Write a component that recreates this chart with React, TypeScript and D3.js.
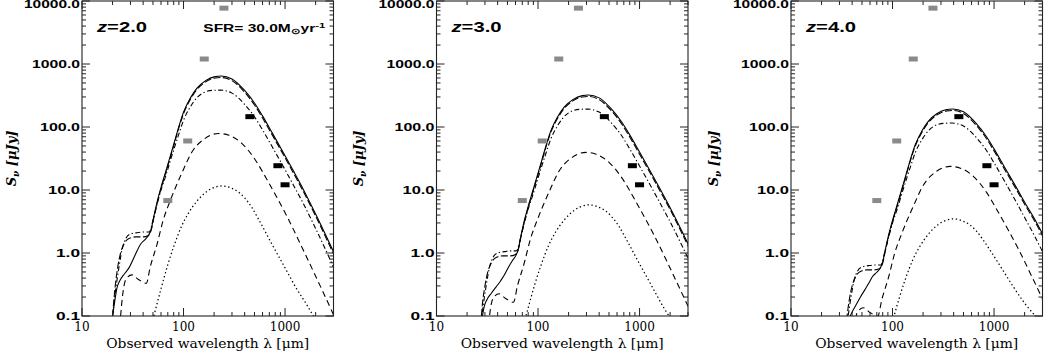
import React from 'react';
import * as d3 from 'd3';

type Pt = [number, number];

// ---- z = 2.0 (wavelength in micron, flux in microJy)
const z2Solid: Pt[] = [[20,0.1],[21,0.17],[22,0.27],[23.5,0.36],[26,0.46],[29,0.58],[32,0.8],[35,1.1],[38,1.4],[42,1.65],[46,2.0],[48,2.4],[51,3.8],[55,6.5],[60,11],[67,20],[75,37],[83,65],[91,108],[100,172],[117,290],[135,410],[165,545],[205,630],[235,645],[300,580],[400,380],[500,240],[600,150],[750,80],[1000,35],[1200,20.5],[1500,10.5],[2000,4.15],[3000,1.05]];
const z2LongDash: Pt[] = [[20,0.1],[21,0.25],[22.5,0.6],[24,1.0],[26,1.4],[29,1.7],[34,1.8],[40,1.8],[45,1.9],[48,2.3],[51,3.6],[55,6.2],[60,10.5],[67,19],[75,35],[83,62],[91,103],[100,163],[117,275],[135,390],[165,520],[205,600],[235,610],[300,545],[400,355],[500,223],[600,139],[750,74],[1000,32.5],[1200,19],[1500,9.75],[2000,3.85],[3000,0.97]];
const z2DashDot: Pt[] = [[20,0.1],[21,0.2],[22,0.35],[23.5,0.7],[25,1.2],[27,1.7],[30,2.0],[35,2.1],[40,2.15],[46,2.15],[50,3.3],[55,6],[60,10],[67,17],[75,31],[83,52],[91,82],[100,128],[117,210],[135,290],[165,362],[200,383],[230,385],[300,345],[400,228],[500,145],[600,90],[750,48],[1000,21],[1200,12.2],[1500,6.25],[2000,2.45],[3000,0.6]];
const z2Dashed: Pt[] = [[24,0.1],[25,0.2],[27,0.38],[31,0.45],[36,0.38],[43,0.33],[47,0.6],[55,1.4],[63,3.3],[74,6.8],[96,18.4],[121,40],[163,66],[222,79],[280,74],[375,55],[510,30],[650,15.5],[835,7.5],[1050,3.75],[1370,1.55],[1850,0.56],[2340,0.25],[3000,0.105]];
const z2Dotted: Pt[] = [[51,0.1],[60,0.27],[70,0.65],[80,1.26],[96,2.7],[112,4.3],[135,6.6],[170,9.5],[205,11.1],[240,11.6],[300,10.6],[350,9.2],[400,7.5],[470,5.3],[550,3.4],[750,1.34],[1000,0.58],[1300,0.27],[1600,0.16],[1900,0.1],[2200,0.067]];

// ---- z = 3.0
const z3Solid: Pt[] = [[27,0.05],[28,0.085],[29.3,0.135],[31.3,0.18],[34.7,0.23],[38.7,0.29],[42.7,0.36],[46.7,0.45],[50.7,0.58],[56,0.76],[61.3,0.95],[64,1.15],[68,1.9],[73.3,3.25],[80,5.5],[89.3,10],[100,18.5],[110.7,32.5],[121.3,54],[133.3,86],[156,145],[180,205],[220,272],[273,315],[313,322],[400,290],[533,190],[667,120],[800,75],[1000,40],[1333,17.5],[1600,10.25],[2000,5.25],[2667,2.08],[4000,0.52]];
const z3LongDash: Pt[] = [[27,0.05],[28,0.125],[30,0.3],[32,0.5],[34.7,0.7],[38.7,0.85],[45.3,0.9],[53.3,0.9],[60,0.95],[64,1.15],[68,1.8],[73.3,3.1],[80,5.25],[89.3,9.5],[100,17.5],[110.7,31],[121.3,51.5],[133.3,81.5],[156,137.5],[180,195],[220,260],[273,300],[313,305],[400,272],[533,178],[667,111.5],[800,69.5],[1000,37],[1333,16.25],[1600,9.5],[2000,4.9],[2667,1.93],[4000,0.49]];
const z3DashDot: Pt[] = [[26.7,0.05],[28,0.1],[29.3,0.175],[31.3,0.35],[33.3,0.6],[36,0.85],[40,1.0],[46.7,1.05],[53.3,1.08],[61.3,1.08],[66.7,1.65],[73.3,3],[80,5],[89.3,8.5],[100,15.5],[110.7,26],[121.3,41],[133.3,64],[156,105],[180,145],[220,181],[266.7,191.5],[306.7,192.5],[400,172.5],[533,114],[667,72.5],[800,45],[1000,24],[1333,10.5],[1600,6.1],[2000,3.13],[2667,1.23],[4000,0.3]];
const z3Dashed: Pt[] = [[32,0.05],[33.3,0.1],[36,0.19],[41.3,0.225],[48,0.19],[57.3,0.165],[62.7,0.3],[73.3,0.7],[84,1.65],[98.7,3.4],[128,9.2],[161.3,20],[217,33],[296,39.5],[373,37],[500,27.5],[680,15],[867,7.75],[1113,3.75],[1400,1.88],[1827,0.78],[2467,0.28],[3120,0.125],[4000,0.053]];
const z3Dotted: Pt[] = [[68,0.05],[80,0.135],[93.3,0.325],[106.7,0.63],[128,1.35],[149,2.15],[180,3.3],[227,4.75],[273,5.55],[320,5.8],[400,5.3],[467,4.6],[533,3.75],[627,2.65],[733,1.7],[1000,0.67],[1333,0.29],[1733,0.135],[2133,0.08],[2533,0.05]];

// ---- z = 4.0
const z4Solid: Pt[] = [[33.3,0.03],[35,0.051],[36.7,0.081],[39.2,0.108],[43.3,0.145],[48.3,0.2],[53.3,0.26],[58.3,0.33],[63.3,0.42],[70,0.495],[76.7,0.6],[80,0.72],[85,1.14],[91.7,1.95],[100,3.3],[111.7,6],[125,11.1],[138.3,19.5],[151.7,32.4],[166.7,51.6],[195,87],[225,123],[275,163.5],[341.7,189],[391.7,193.5],[500,174],[666.7,114],[833.3,72],[1000,45],[1250,24],[1666.7,10.8],[2000,6.4],[2500,3.5],[3333,1.45]];
const z4LongDash: Pt[] = [[33.3,0.03],[35,0.075],[37.5,0.18],[40,0.3],[43.3,0.42],[48.3,0.51],[56.7,0.54],[66.7,0.54],[75,0.57],[80,0.69],[85,1.08],[91.7,1.86],[100,3.15],[111.7,5.7],[125,10.5],[138.3,18.6],[151.7,30.9],[166.7,48.9],[195,82.5],[225,117],[275,156],[341.7,180],[391.7,183],[500,163.5],[666.7,106.5],[833.3,67],[1000,41.7],[1250,22.2],[1666.7,10],[2000,5.95],[2500,3.25],[3333,1.35]];
const z4DashDot: Pt[] = [[33.3,0.03],[35,0.06],[36.7,0.105],[39.2,0.21],[41.7,0.36],[45,0.51],[50,0.6],[58.3,0.63],[66.7,0.645],[76.7,0.645],[83.3,0.99],[91.7,1.8],[100,3.0],[111.7,5.1],[125,9.3],[138.3,15.6],[151.7,24.6],[166.7,38.4],[195,63],[225,87],[275,108.6],[333.3,114.9],[383.3,115.5],[500,103.5],[666.7,68.4],[833.3,43.5],[1000,27],[1250,14.4],[1666.7,6.3],[2000,3.66],[2500,1.88],[3333,0.74]];
const z4Dashed: Pt[] = [[40,0.03],[41.7,0.06],[45,0.114],[51.7,0.135],[60,0.114],[71.7,0.1],[78.3,0.18],[91.7,0.42],[105,0.99],[123.3,2.04],[160,5.5],[201.7,12],[271.7,19.8],[370,23.7],[466.7,22.2],[625,16.5],[850,9],[1083,4.65],[1392,2.25],[1750,1.13],[2283,0.47],[3083,0.17],[3900,0.075]];
const z4Dotted: Pt[] = [[85,0.03],[100,0.081],[116.7,0.195],[133.3,0.378],[160,0.81],[186.7,1.29],[225,1.98],[283,2.85],[341.7,3.33],[400,3.48],[500,3.18],[583,2.76],[667,2.25],[783,1.6],[917,1.1],[1250,0.5],[1550,0.29],[2000,0.16],[2550,0.1],[3000,0.075]];

// limits (grey) and observed points (black), same in every panel
const greyLimits: Pt[] = [[70, 6.8], [110, 60], [160, 1200], [250, 7700]];
const blackPoints: Pt[] = [[450, 146], [850, 24.3], [1000, 12.1]];

const redshifts = ['2.0', '3.0', '4.0'];
const sfrValue = '30.0';

const yTickValues = [0.1, 1, 10, 100, 1000, 10000];
const yTickLabels = ['0.1', '1.0', '10.0', '100.0', '1000.0', '10000.0'];
const xTickValues = [10, 100, 1000];
const xTickLabels = ['10', '100', '1000'];

const panelCurves = [
  [z2Solid, z2LongDash, z2DashDot, z2Dashed, z2Dotted],
  [z3Solid, z3LongDash, z3DashDot, z3Dashed, z3Dotted],
  [z4Solid, z4LongDash, z4DashDot, z4Dashed, z4Dotted],
];
const dashes = [undefined, '7,2.5', '5,2.5,1.3,2.5', '6,4', '1.4,2.6'];

const panelLeft = [82, 436.5, 791];
const yTitleX = [16, 362.5, 717.5];
const plotW = 251.5;
const plotTop = 1;
const plotBottom = 316;

const sans = '"Liberation Sans", Arial, sans-serif';
const serif = '"DejaVu Serif", serif';

const isMajor = (v: number) => Math.abs(Math.log10(v) - Math.round(Math.log10(v))) < 1e-6;

function Panel({ i }: { i: number }) {
  const left = panelLeft[i];
  const right = left + plotW;
  const x = d3.scaleLog().domain([10, 3000]).range([left, right]);
  const y = d3.scaleLog().domain([0.1, 10000]).range([plotBottom, plotTop]);
  const line = d3.line<Pt>().x(d => x(d[0])).y(d => y(d[1])).curve(d3.curveMonotoneX);
  const clipId = `clip${i}`;

  return (
    <g>
      <defs>
        <clipPath id={clipId}>
          <rect x={left} y={plotTop} width={plotW} height={plotBottom - plotTop} />
        </clipPath>
      </defs>

      <g clipPath={`url(#${clipId})`}>
        {panelCurves[i].map((c, k) => (
          <path key={k} d={line(c) || ''} fill="none" stroke="#000"
            strokeWidth={k === 4 ? 1.25 : 1.1} strokeDasharray={dashes[k]} />
        ))}
        {greyLimits.map((p, k) => (
          <rect key={'g' + k} x={x(p[0]) - 4.5} y={y(p[1]) - 2.5} width={9} height={5} fill="#8a8a8a" />
        ))}
        {blackPoints.map((p, k) => (
          <rect key={'b' + k} x={x(p[0]) - 4.5} y={y(p[1]) - 2.5} width={9} height={5} fill="#000" />
        ))}
      </g>

      {/* frame and ticks */}
      <rect x={left} y={plotTop} width={plotW} height={plotBottom - plotTop} fill="none" stroke="#222" strokeWidth={1.1} />
      {x.ticks().map((v, k) => {
        const len = isMajor(v) ? 8 : 4;
        const px = x(v);
        return (
          <g key={'xt' + k} stroke="#222" strokeWidth={1}>
            <line x1={px} x2={px} y1={plotBottom} y2={plotBottom - len} />
            <line x1={px} x2={px} y1={plotTop} y2={plotTop + len} />
          </g>
        );
      })}
      {y.ticks().map((v, k) => {
        const len = isMajor(v) ? 8 : 4;
        const py = y(v);
        return (
          <g key={'yt' + k} stroke="#222" strokeWidth={1}>
            <line x1={left} x2={left + len} y1={py} y2={py} />
            <line x1={right} x2={right - len} y1={py} y2={py} />
          </g>
        );
      })}

      {yTickValues.map((v, k) => (
        <text key={'yl' + k} x={left - 2} y={Math.max(y(v) + 4, 8)} textAnchor="end"
          fontFamily={sans} fontWeight="bold" fontSize={10}
          textLength={8 * yTickLabels[k].length} lengthAdjust="spacingAndGlyphs">
          {yTickLabels[k]}
        </text>
      ))}
      {xTickValues.map((v, k) => (
        <text key={'xl' + k} x={x(v)} y={331} textAnchor="middle" fontFamily={serif} fontSize={12}>
          {xTickLabels[k]}
        </text>
      ))}

      <text x={(left + right) / 2} y={348} textAnchor="middle" fontFamily={serif} fontSize={13.5}
        textLength={203} lengthAdjust="spacingAndGlyphs">
        Observed wavelength λ [μm]
      </text>

      <text transform={`translate(${yTitleX[i]},${(plotTop + plotBottom) / 2}) rotate(-90)`}
        textAnchor="middle" fontFamily={serif} fontStyle="italic" fontWeight="bold" fontSize={13}>
        <tspan>S</tspan><tspan fontSize={9} dy={3}>ν</tspan><tspan dy={-3}> [μJy]</tspan>
      </text>

      <text x={left + 15} y={32.3} fontFamily={sans} fontWeight="bold" fontSize={15}
        textLength={50} lengthAdjust="spacingAndGlyphs">
        <tspan fontStyle="italic">z</tspan>={redshifts[i]}
      </text>

      {i === 0 && (
        <text x={left + 121.3} y={32.3} fontFamily={sans} fontWeight="bold" fontSize={11}
          textLength={122} lengthAdjust="spacingAndGlyphs">
          SFR= {sfrValue}M<tspan fontSize={8} dy={1.5}>⊙</tspan><tspan dy={-1.5}>yr</tspan><tspan fontSize={8} dy={-4}>-1</tspan>
        </text>
      )}
    </g>
  );
}

export default function App() {
  return (
    <svg width={1044} height={355} style={{ position: 'absolute', left: 0, top: 0, background: '#fff' }}>
      {[0, 1, 2].map(i => <Panel key={i} i={i} />)}
    </svg>
  );
}
